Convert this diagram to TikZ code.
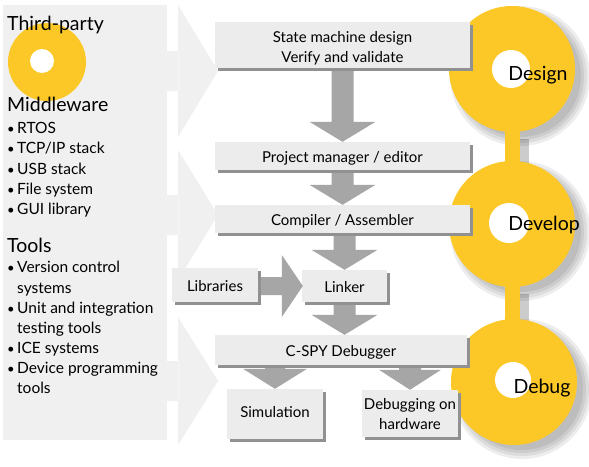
\documentclass[tikz,border=0pt]{standalone}
\usepackage{fontspec}
\setmainfont{Lato}
\usetikzlibrary{shadows,backgrounds}
\definecolor{panelgrey}{RGB}{240,240,240}
\definecolor{boxgrey}{RGB}{236,236,236}
\definecolor{shadegrey}{RGB}{145,145,145}
\definecolor{arrowgrey}{RGB}{166,166,166}
\definecolor{sunyellow}{RGB}{252,200,40}
\newcommand{\dgboxfont}{\fontsize{15}{20}\selectfont}
\newcommand{\dgitemfont}{\fontsize{15.5}{20}\selectfont}
\newcommand{\dgheadfont}{\fontsize{19.5}{24}\selectfont}
% vertical block arrow: #1 from node, #2 tip coordinate, #3 shaft half width, #4 head half width
\newcommand{\dgvarrow}[4]{%
  \coordinate (dgS) at (#1.south -| #2);
  \fill[bigarrow] ([xshift=-#3pt,yshift=-3pt]dgS) -- ([xshift=#3pt,yshift=-3pt]dgS)
    -- ([xshift=#3pt,yshift=20pt]#2) -- ([xshift=#4pt,yshift=20pt]#2) -- (#2)
    -- ([xshift=-#4pt,yshift=20pt]#2) -- ([xshift=-#3pt,yshift=20pt]#2) -- cycle;}
% soft shadow of a phase circle
\newcommand{\dgshadow}[1]{%
  \foreach \dgr in {70,67,64,61}{\fill[black, opacity=0.07] ([xshift=8pt,yshift=-7pt]#1.center) circle (\dgr pt);}}
\tikzset{
  bigarrow/.style={fill=arrowgrey},
  box/.style={rectangle, fill=boxgrey, inner sep=0pt, align=center, font=\dgboxfont,
    general shadow={fill=shadegrey, shadow xshift=3pt, shadow yshift=-3pt}},
  oneline/.style={text height=13.5pt, text depth=0pt},
  boxtext/.style={inner sep=0pt, align=center, font=\dgboxfont},
  ring/.style={circle, fill=sunyellow, minimum size=126pt, inner sep=0pt},
  hole/.style={circle, fill=white, inner sep=0pt},
  phase/.style={anchor=base, inner sep=0pt, font=\dgheadfont},
  head/.style={anchor=base west, inner sep=0pt, font=\dgheadfont},
  item/.style={anchor=base west, inner sep=0pt, font=\dgitemfont},
  bullet/.style={anchor=base west, inner sep=0pt, font=\fontsize{13}{20}\selectfont},
}
\begin{document}
\begin{tikzpicture}[x=1pt,y=-1pt]
\useasboundingbox (0,0) rectangle (589,466);

% left panel with three chevrons
\fill[panelgrey] (3,5) rectangle (167,440);
\fill[panelgrey] (166,51) rectangle (178.5,91) (178,5) -- (218,71) -- (178,137) -- cycle;
\fill[panelgrey] (166,195) rectangle (178.5,235) (178,150) -- (218,215) -- (178,280) -- cycle;
\fill[panelgrey] (166,361) rectangle (178.5,401) (178,317) -- (218,381) -- (178,445) -- cycle;

% third-party emblem
\node[circle, fill=sunyellow, minimum size=78pt, inner sep=0pt] (tpc) at (47,62) {};
\node[hole, minimum size=24pt] (tph) at (42,61) {};

% left texts
\node[head] (h1) at (7,30) {Third-party};
\node[head] (h2) at (7,111) {Middleware};
\node[bullet] (b1) at (7,133) {•}; \node[item] (i1) at (17,133) {RTOS};
\node[bullet] (b2) at (7,153) {•}; \node[item] (i2) at (17,153) {TCP/IP stack};
\node[bullet] (b3) at (7,174) {•}; \node[item] (i3) at (17,174) {USB stack};
\node[bullet] (b4) at (7,194) {•}; \node[item] (i4) at (17,194) {File system};
\node[bullet] (b5) at (7,214) {•}; \node[item] (i5) at (17,214) {GUI library};
\node[head] (h3) at (7,252) {Tools};
\node[bullet] (b6) at (7,272) {•}; \node[item] (i6) at (17,272) {Version control};
\node[item] (i6b) at (17,293) {systems};
\node[bullet] (b7) at (7,313) {•}; \node[item] (i7) at (17,313) {Unit and integration};
\node[item] (i7b) at (17,333) {testing tools};
\node[bullet] (b8) at (7,353) {•}; \node[item] (i8) at (17,353) {ICE systems};
\node[bullet] (b9) at (7,373) {•}; \node[item] (i9) at (17,373) {Device programming};
\node[item] (i9b) at (17,393) {tools};

% phase circles
\node[ring] (design) at (512,69) {};
\node[ring] (develop) at (512,224) {};
\node[ring] (debug) at (514,382) {};
\begin{pgfonlayer}{background}
\fill[white] (0,0) rectangle (589,466);
\dgshadow{design}
\dgshadow{develop}
\dgshadow{debug}
\draw[black, opacity=0.2, line width=17pt] ([xshift=8pt,yshift=-7pt]design.south) -- ([xshift=8pt,yshift=-7pt]develop.north);
\draw[black, opacity=0.2, line width=17pt] ([xshift=8pt,yshift=-7pt]develop.south) -- ([xshift=8pt,yshift=-7pt]debug.north -| develop.south);
\end{pgfonlayer}
\draw[sunyellow, line width=15pt, shorten <=-4pt, shorten >=-4pt] (design.south) -- (develop.north);
\draw[sunyellow, line width=15pt, shorten <=-4pt, shorten >=-4pt] (develop.south) -- (debug.north -| develop.south);
\node[hole, minimum size=38pt] (designhole) at (511,69) {};
\node[hole, minimum size=40pt] (develophole) at (509,223) {};
\node[hole, minimum size=36pt] (debughole) at (513,380) {};
\node[phase] (designlbl) at (538,80) {Design};
\node[phase] (developlbl) at (544,230) {Develop};
\node[phase] (debuglbl) at (542,393) {Debug};

% flow boxes
\node[box, minimum width=255pt, minimum height=46pt] (state) at (342.5,45) {};
\node[boxtext] (statetxt) at (342.5,48.5) {State machine design\\Verify and validate};
\node[box, oneline, minimum width=255pt, minimum height=28pt] (project) at (342.5,156) {Project manager / editor};
\node[box, oneline, minimum width=255pt, minimum height=28pt] (compiler) at (342.5,219) {Compiler / Assembler};
\node[box, oneline, minimum width=86pt, minimum height=34pt] (libraries) at (215,285) {Libraries};
\node[box, oneline, minimum width=85pt, minimum height=32pt] (linker) at (344.5,286) {Linker};
\node[box, oneline, minimum width=252pt, minimum height=30pt] (cspy) at (341,350) {C-SPY Debugger};
\node[box, text height=13.5pt, text depth=6pt, minimum width=96pt, minimum height=50pt] (sim) at (275,414) {Simulation};
\node[box, minimum width=96pt, minimum height=47pt] (hw) at (410,413.5) {};
\node[boxtext] (hwtxt) at (410,414) {Debugging on\\hardware};

% block arrows
\dgvarrow{state}{project.north}{11}{33}
\dgvarrow{project}{compiler.north}{11}{33}
\dgvarrow{compiler}{linker.north}{11}{33}
\coordinate (t4) at (linker.south |- cspy.north);
\dgvarrow{linker}{t4}{11}{33}
\dgvarrow{cspy}{sim.north}{10}{32}
\dgvarrow{cspy}{hw.north}{11}{31}
\coordinate (libS) at ([xshift=3pt]libraries.east |- linker.west);
\fill[bigarrow] ([yshift=9pt]libS) -- ([xshift=-20pt,yshift=9pt]linker.west)
  -- ([xshift=-20pt,yshift=31pt]linker.west) -- ([xshift=1pt]linker.west)
  -- ([xshift=-20pt,yshift=-31pt]linker.west) -- ([xshift=-20pt,yshift=-9pt]linker.west)
  -- ([yshift=-9pt]libS) -- cycle;
\end{tikzpicture}
\end{document}
